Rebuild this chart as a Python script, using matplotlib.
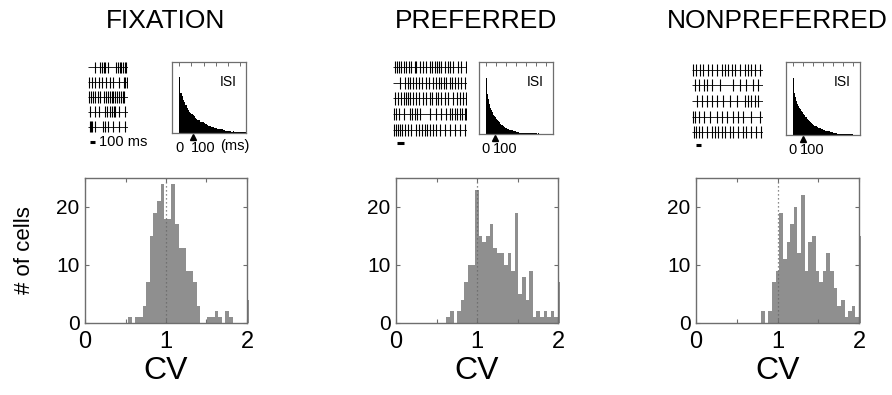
import numpy as np
import matplotlib
matplotlib.use('Agg')
import matplotlib.pyplot as plt
from matplotlib.transforms import blended_transform_factory

W, H = 892, 395
plt.rcParams['font.family'] = ['Liberation Sans', 'DejaVu Sans']

# ---------------- data ----------------
titles = ['FIXATION', 'PREFERRED', 'NONPREFERRED']

cv_edges = np.linspace(0, 2, 46)   # 45 bins of CV
cv_fix = [0, 0, 0, 0, 0, 0, 0, 0, 0, 0, 0, 0, 1, 0, 1, 1, 3, 7, 15, 19, 21, 24, 18,
          18, 24, 17, 13, 13, 9, 9, 7, 3, 0, 0, 1, 1, 2, 1, 0, 2, 1, 0, 0, 0, 0]
cv_pref = [0, 0, 0, 0, 0, 0, 0, 0, 0, 0, 0, 0, 0, 0, 1, 2, 0, 2, 4, 7, 10, 10, 23,
           15, 14, 15, 17, 13, 12, 12, 10, 12, 9, 19, 5, 8, 4, 9, 1, 2, 1, 2, 1, 2, 1]
cv_nonpref = [0, 0, 0, 0, 0, 0, 0, 0, 0, 0, 0, 0, 0, 0, 0, 0, 0, 0, 2, 0, 2, 7, 9,
              19, 11, 14, 17, 20, 12, 22, 9, 14, 15, 9, 7, 9, 12, 9, 6, 3, 4, 1, 2, 3, 1]
cv_overflow = [4, 7, 15]          # cells with CV > 2

isi_bin = 5  # ms
isi_fix = [0.79, 0.56, 0.52, 0.46, 0.43, 0.40, 0.35, 0.33, 0.30, 0.28, 0.27, 0.25,
           0.24, 0.21, 0.20, 0.19, 0.18, 0.16, 0.15, 0.15, 0.14, 0.13, 0.12, 0.11,
           0.10, 0.10, 0.09, 0.09, 0.08, 0.07, 0.07, 0.06, 0.06, 0.05, 0.05, 0.05,
           0.04, 0.04, 0.03, 0.03, 0.03, 0.03, 0.03, 0.02, 0.03, 0.02, 0.02, 0.02,
           0.02, 0.02, 0.02, 0.01, 0.02, 0.01, 0.01]
isi_pref = [0.78, 0.55, 0.48, 0.42, 0.36, 0.33, 0.30, 0.27, 0.25, 0.23, 0.21, 0.19,
            0.18, 0.16, 0.14, 0.13, 0.12, 0.11, 0.10, 0.09, 0.08, 0.07, 0.07, 0.06,
            0.06, 0.05, 0.05, 0.04, 0.04, 0.04, 0.03, 0.03, 0.03, 0.02, 0.02, 0.02,
            0.02, 0.02, 0.01, 0.02, 0.01, 0.01, 0.01, 0.01, 0.01, 0.01, 0.01, 0.01,
            0.01, 0.01, 0.01, 0.005, 0.01, 0.005, 0.005, 0.005, 0.005, 0.005, 0.005, 0.005]
isi_nonpref = [0.78, 0.58, 0.52, 0.47, 0.43, 0.40, 0.37, 0.35, 0.33, 0.31, 0.29, 0.27,
               0.25, 0.24, 0.22, 0.21, 0.19, 0.18, 0.17, 0.15, 0.14, 0.13, 0.12, 0.12,
               0.11, 0.10, 0.09, 0.09, 0.08, 0.08, 0.07, 0.07, 0.06, 0.06, 0.05, 0.05,
               0.05, 0.04, 0.04, 0.04, 0.03, 0.03, 0.03, 0.03, 0.02, 0.02, 0.02, 0.02,
               0.02, 0.02, 0.01, 0.02, 0.01, 0.01, 0.01, 0.01, 0.01, 0.01, 0.01, 0.01]
isi_mean = [57, 45, 53]            # ms, arrow markers
isi_xmax = [275, 337, 337]

raster_fix = [
    [131, 240, 277, 313, 349, 400, 567, 597, 633, 669, 705, 735, 763],
    [22, 73, 131, 218, 277, 363, 437, 509, 618, 727, 749, 771],
    [22, 58, 95, 145, 197, 240, 327, 363, 400, 437, 473, 509, 545, 582, 618, 655, 691, 727],
    [37, 145, 218, 342, 385, 437, 487, 523, 545, 618, 749],
    [37, 58, 87, 145, 291, 342, 400, 509, 618, 749],
]
raster_pref = [
    [25, 60, 90, 125, 160, 200, 240, 275, 325, 350, 400, 450, 500, 550, 590, 625, 660,
     690, 725, 775, 825, 860, 900, 975, 1025, 1090],
    [110, 175, 225, 260, 300, 350, 390, 440, 500, 540, 600, 640, 690, 725, 760, 800,
     850, 890, 925, 975, 1025, 1075],
    [25, 75, 125, 160, 190, 225, 260, 300, 340, 390, 450, 500, 550, 590, 640, 675, 725,
     775, 825, 900, 960, 1000, 1050, 1090],
    [10, 50, 90, 160, 250, 290, 325, 360, 410, 550, 650, 725, 800, 850, 890, 925, 960,
     1000, 1040, 1075, 1100],
    [10, 40, 70, 100, 140, 175, 225, 275, 340, 390, 440, 475, 510, 550, 600, 650, 710,
     775, 850, 925, 1000, 1075],
]
raster_nonpref = [
    [20, 85, 150, 215, 325, 390, 488, 585, 650, 715, 780, 845, 943, 1040, 1105, 1170, 1235, 1333],
    [65, 130, 228, 293, 390, 553, 813, 943, 1073, 1203, 1300],
    [98, 195, 293, 390, 488, 618, 748, 878, 1040, 1105, 1170, 1235, 1300],
    [20, 65, 130, 228, 358, 488, 585, 683, 813, 910, 1008, 1170, 1333],
    [33, 85, 130, 195, 293, 390, 455, 520, 585, 650, 748, 813, 910, 1008, 1073, 1170, 1268, 1365],
]
raster_T = [800, 1110, 1400]

# ---------------- layout (pixel boxes) ----------------
hist_px = [(85, 178, 247, 323), (396, 178, 558, 323), (696, 178, 859, 323)]
isi_px = [(172, 62, 246, 133), (479, 62, 553, 134), (786, 62, 860, 135)]
ras_px = [(88, 60, 128, 134), (393, 59, 467, 138), (692, 62, 763, 140)]
title_x = [166, 476, 777]

bar_gray = '#8f8f8f'
spine_col = '#6e6e6e'


def box(x0, y0, x1, y1):
    return [x0 / W, 1 - y1 / H, (x1 - x0) / W, (y1 - y0) / H]


fig = plt.figure(figsize=(W / 100, H / 100), dpi=100)

cv_all = [cv_fix, cv_pref, cv_nonpref]
isi_all = [isi_fix, isi_pref, isi_nonpref]
ras_all = [raster_fix, raster_pref, raster_nonpref]

for i in range(3):
    # --- title
    fig.text(title_x[i] / W, 1 - 21 / H, titles[i], fontsize=19, ha='center', va='center')

    # --- CV histogram
    ax = fig.add_axes(box(*hist_px[i]))
    ax.bar(cv_edges[:-1], cv_all[i], width=np.diff(cv_edges), align='edge',
           color=bar_gray, linewidth=0, zorder=1)
    ax.bar(cv_edges[-1], cv_overflow[i], width=0.022, align='edge', color=bar_gray,
           linewidth=0, clip_on=False, zorder=1)
    ax.axvline(1, color='#666666', ls=(0, (1, 2.2)), lw=0.9, zorder=2)
    ax.set_xlim(0, 2)
    ax.set_ylim(0, 25)
    ax.set_xticks([0, 1, 2])
    ax.set_xticks([0.5, 1.5], minor=True)
    ax.set_yticks([0, 10, 20])
    ax.tick_params(which='both', direction='in', top=True, right=True, length=3,
                   width=0.8, color=spine_col)
    ax.tick_params(axis='x', labelsize=17, pad=6)
    ax.tick_params(axis='y', labelsize=15, pad=4)
    for s in ax.spines.values():
        s.set_color(spine_col)
        s.set_linewidth(1.0)
    cx = (hist_px[i][0] + hist_px[i][2]) / 2
    fig.text(cx / W, 1 - 371 / H, 'CV', fontsize=23, ha='center', va='center')

    # --- ISI histogram inset
    ai = fig.add_axes(box(*isi_px[i]))
    vals = isi_all[i]
    ai.bar(np.arange(len(vals)) * isi_bin, vals, width=isi_bin, align='edge',
           color='black', linewidth=0)
    ai.set_xlim(-30 if i == 0 else -33, isi_xmax[i])
    ai.set_ylim(0, 1)
    ai.set_yticks([])
    ticks = np.arange(0, isi_xmax[i], 50)
    ai.set_xticks(ticks)
    ai.set_xticklabels(['0' if t == 0 else ('100' if t == 100 else '') for t in ticks])
    ai.tick_params(axis='x', bottom=False, top=True, direction='in', length=3,
                   width=0.7, color=spine_col, labelsize=10.5, pad=6)
    for s in ai.spines.values():
        s.set_color(spine_col)
        s.set_linewidth(0.9)
    tr = blended_transform_factory(ai.transData, ai.transAxes)
    ai.plot([isi_mean[i]], [-0.05], marker='^', color='black', ms=5, transform=tr,
            clip_on=False)
    ai.text(0.88, 0.72, 'ISI', transform=ai.transAxes, fontsize=10, ha='right', va='center')
    if i == 0:
        ai.text(229, -0.085, '(ms)', transform=tr, fontsize=10.5, ha='center', va='top')

    # --- raster inset
    ar = fig.add_axes(box(*ras_px[i]))
    T = raster_T[i]
    for r, spikes in enumerate(ras_all[i]):
        ar.hlines(r + 1, 0, T, color='black', lw=0.6)
        ar.vlines(spikes, r + 1 - 0.38, r + 1 + 0.38, color='black', lw=0.8)
    ar.set_xlim(0, T)
    ar.set_ylim(5.5, 0.5)
    ar.axis('off')
    # scale bar 100 ms
    rx0, ry0, rx1, ry1 = ras_px[i]
    sb_y = [142, 143, 145][i]
    trr = blended_transform_factory(ar.transData, ar.transAxes)
    yax = (ry1 - sb_y) / (ry1 - ry0)
    off = 0.06 * T
    ar.plot([off, off + 100], [yax, yax], color='black', lw=2.2, transform=trr,
            clip_on=False, solid_capstyle='butt')
    if i == 0:
        ar.text(off + 100 + 0.1 * T, yax, '100 ms', transform=trr, fontsize=10.5,
                ha='left', va='center')

fig.text(25 / W, 1 - 250 / H, '# of cells', fontsize=16, rotation=90,
         ha='center', va='center')

fig.savefig('out.png', dpi=100)
